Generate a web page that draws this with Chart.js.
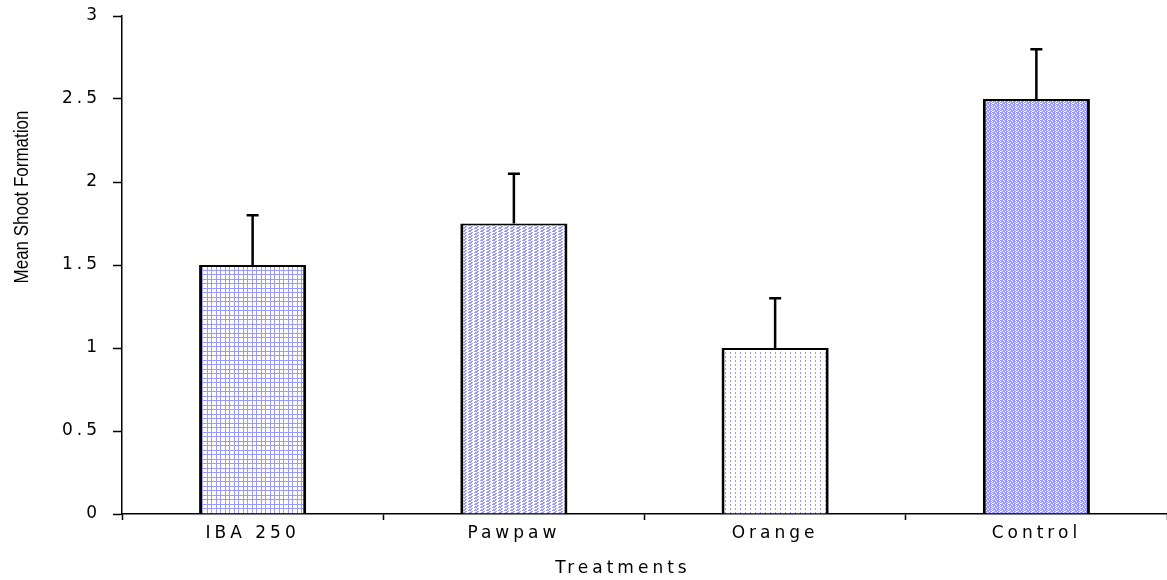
<!DOCTYPE html>
<html>
<head>
<meta charset="utf-8">
<script src="https://cdn.jsdelivr.net/npm/chart.js@4"></script>
<style>
  html, body { margin: 0; padding: 0; background: #fff; }
  #wrap { width: 1167px; height: 580px; position: relative; }
</style>
</head>
<body>
<div id="wrap"><canvas id="myChart"></canvas></div>
<script>
const categories = ['IBA 250', 'Pawpaw', 'Orange', 'Control'];
const meanShoots = [1.5, 1.75, 1.0, 2.5];
const errorUp = [0.3, 0.3, 0.3, 0.3];
const yTitle = 'Mean Shoot Formation';
const xTitle = 'Treatments';

const blue = '#9999ff';

// little tiles for the hatched fills
function makePattern(w, h, draw) {
  const c = document.createElement('canvas');
  c.width = w; c.height = h;
  const g = c.getContext('2d');
  g.fillStyle = '#fff';
  g.fillRect(0, 0, w, h);
  g.fillStyle = blue;
  draw(g);
  return g.createPattern(c, 'repeat');
}

let ctx = document.getElementById('myChart').getContext('2d');

const fills = [
  // grid
  makePattern(9, 9, g => {
    g.fillRect(0, 0, 9, 1); g.fillRect(0, 4, 9, 1);
    g.fillRect(0, 0, 1, 9); g.fillRect(4, 0, 1, 9);
  }),
  // fine weave
  makePattern(6, 3, g => {
    g.fillRect(0, 0, 3, 1);
    g.fillRect(3, 1, 2, 1);
    g.fillRect(1, 2, 3, 1);
  }),
  // dotted verticals
  makePattern(5, 4, g => {
    g.fillRect(0, 0, 1, 2);
  }),
  // checker waves
  makePattern(8, 4, g => {
    g.fillRect(0, 0, 3, 1); g.fillRect(4, 0, 3, 1);
    g.fillRect(1, 1, 3, 1); g.fillRect(5, 1, 3, 1);
    g.fillRect(0, 2, 2, 1); g.fillRect(3, 2, 4, 1);
    g.fillRect(2, 3, 3, 1); g.fillRect(6, 3, 2, 1);
  })
];

const errorBars = {
  id: 'errorBars',
  afterDatasetsDraw(chart) {
    const c = chart.ctx;
    const y = chart.scales.y;
    const meta = chart.getDatasetMeta(0);
    c.save();
    c.strokeStyle = '#000';
    c.lineWidth = 2.5;
    meta.data.forEach((bar, i) => {
      const top = y.getPixelForValue(meanShoots[i] + errorUp[i]);
      c.beginPath();
      c.moveTo(bar.x, bar.y);
      c.lineTo(bar.x, top);
      c.moveTo(bar.x - 6, top);
      c.lineTo(bar.x + 6, top);
      c.stroke();
    });
    c.restore();
  }
};

const spacing = {
  id: 'spacing',
  beforeDraw(chart) {
    chart.ctx.letterSpacing = '4px';
  },
  afterDraw(chart) {
    const c = chart.ctx;
    c.save();
    c.fillStyle = '#000';
    // x title
    c.letterSpacing = '4px';
    c.font = '17px "DejaVu Sans"';
    c.textAlign = 'center';
    c.textBaseline = 'middle';
    c.fillText(xTitle, 623, 569);
    // y title, condensed
    c.letterSpacing = '0px';
    c.font = '21px "Liberation Sans"';
    const w = c.measureText(yTitle).width;
    c.translate(22, 197);
    c.rotate(-Math.PI / 2);
    c.scale(173 / w, 1);
    c.fillText(yTitle, 0, 0);
    c.restore();
    c.letterSpacing = '0px';
  }
};

var myChart = new Chart(ctx, {
  type: 'bar',
  data: {
    labels: categories,
    datasets: [{
      data: meanShoots,
      backgroundColor: fills,
      borderColor: '#000',
      borderWidth: { top: 2, left: 3, right: 3, bottom: 0 },
      borderSkipped: 'bottom',
      categoryPercentage: 1,
      barPercentage: 0.41
    }]
  },
  options: {
    responsive: true,
    maintainAspectRatio: false,
    animation: false,
    layout: { padding: { top: 16, right: 0, bottom: 0, left: 0 } },
    plugins: {
      legend: { display: false },
      tooltip: { enabled: false }
    },
    scales: {
      x: {
        offset: true,
        grid: { offset: true, drawOnChartArea: false, color: '#000', tickLength: 6, tickWidth: 1.5 },
        border: { color: '#000', width: 1.5 },
        ticks: { color: '#000', font: { family: 'DejaVu Sans', size: 17 }, padding: 3, maxRotation: 0 },
        afterFit(scale) {
          scale.height = 66;
          scale.paddingLeft = 0; scale.paddingRight = 0;
        }
      },
      y: {
        min: 0,
        max: 3,
        ticks: {
          stepSize: 0.5, color: '#000', font: { family: 'DejaVu Sans', size: 17 }, padding: 12,
          callback: v => String(v)
        },
        grid: { drawOnChartArea: false, color: '#000', tickLength: 9, tickWidth: 1.5 },
        border: { color: '#000', width: 1.5 },
        afterFit(scale) {
          scale.width = 122;
          scale.paddingTop = 0; scale.paddingBottom = 0;
        }
      }
    }
  },
  plugins: [errorBars, spacing]
});
</script>
</body>
</html>
